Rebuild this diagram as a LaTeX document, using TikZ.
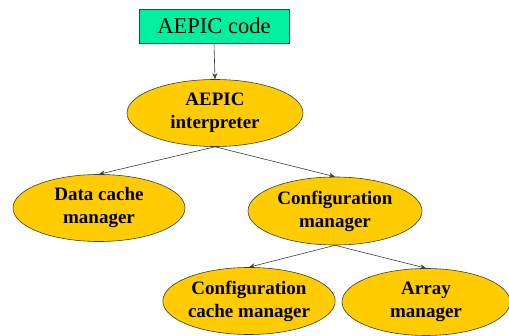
\documentclass[tikz,border=0pt]{standalone}
\usepackage{fontspec}
\setmainfont{Liberation Serif}
\usetikzlibrary{shapes.geometric,arrows.meta}
\definecolor{boxgreen}{RGB}{0,240,160}
\definecolor{ellgold}{RGB}{255,204,0}
\definecolor{edgegrey}{RGB}{60,60,60}
\tikzset{
  compbox/.style={ellipse, draw=edgegrey, line width=0.6pt, fill=ellgold, inner sep=0pt,
    align=center, font=\fontsize{19}{23}\selectfont\bfseries},
  codebox/.style={rectangle, draw=edgegrey, line width=0.7pt, fill=boxgreen, inner sep=0pt,
    minimum width=150pt, minimum height=34pt, font=\fontsize{22.5}{26}\selectfont},
  conn/.style={draw=edgegrey, line width=0.6pt, -{Stealth[length=6pt,width=5pt]}}
}
\begin{document}
\begin{tikzpicture}[x=1pt,y=-1pt]
\useasboundingbox (0,0) rectangle (509,336);
\node[codebox] (code) at (214,26) {AEPIC code};
\node[compbox, minimum width=176pt, minimum height=67pt] (interp) at (215,113) {AEPIC\\interpreter};
\node[compbox, minimum width=172pt, minimum height=67pt] (data) at (99,208) {Data cache\\manager};
\node[compbox, minimum width=174pt, minimum height=68pt] (config) at (335,211) {Configuration\\manager};
\node[compbox, minimum width=172pt, minimum height=67pt] (ccm) at (249,301) {Configuration\\cache manager};
\node[compbox, minimum width=168pt, minimum height=67pt] (array) at (426,302) {Array\\manager};
\draw[conn] (code.south) -- (interp.north);
\draw[conn] (interp.south) -- (data.north);
\draw[conn] (interp.south) -- (config.north);
\draw[conn] (config.south) -- (ccm.north);
\draw[conn] (config.south) -- (array.north);
\end{tikzpicture}
\end{document}
